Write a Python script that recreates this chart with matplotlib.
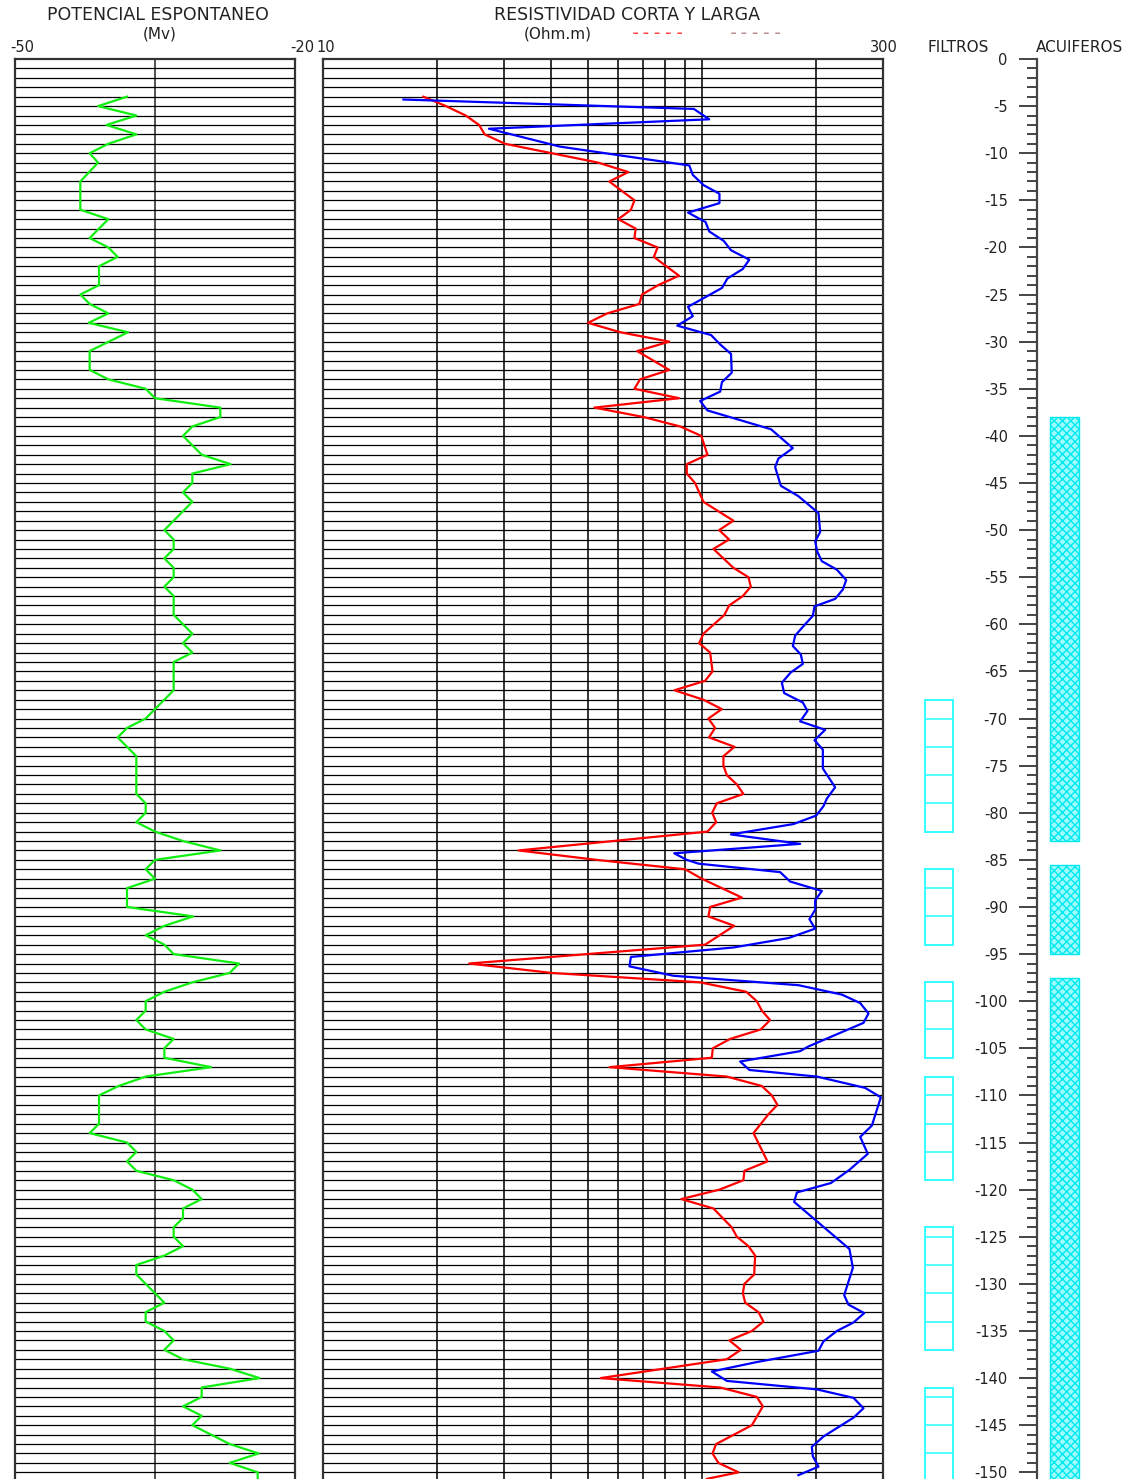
import numpy as np
import matplotlib
matplotlib.use("Agg")
import matplotlib.pyplot as plt
from matplotlib.patches import Rectangle
from matplotlib.ticker import FixedLocator, NullFormatter, NullLocator

sp_depth = [-4, -5, -6, -7, -8, -9, -10, -11, -13, -16, -17, -19, -20, -21, -22, -24, -25, -26,
            -27, -28, -29, -31, -33, -34, -35, -36, -37, -38, -39, -40, -42, -43, -44, -45, -46,
            -47, -50, -51, -52, -53, -54, -55, -56, -57, -59, -61, -62, -63, -64, -67, -70, -71,
            -72, -74, -78, -79, -80, -81, -82, -83, -84, -85, -86, -87, -88, -90, -91, -92, -93,
            -94, -95, -96, -97, -98, -99, -100, -101, -102, -103, -104, -105, -106, -107, -108,
            -109, -110, -113, -114, -115, -116, -117, -118, -119, -120, -121, -122, -123, -124,
            -125, -126, -127, -128, -129, -131, -132, -133, -134, -135, -136, -137, -138, -139,
            -140, -141, -142, -143, -144, -145, -147, -148, -149, -150, -150.7]
sp_mv = [-38.0, -41.1, -37.0, -40.2, -37.0, -40.0, -42.0, -41.1, -43.0, -43.0, -40.0, -42.0,
         -40.0, -39.0, -41.0, -41.0, -43.0, -42.0, -40.0, -42.1, -37.9, -42.0, -42.0, -40.0,
         -36.0, -35.0, -28.0, -28.0, -31.0, -32.0, -30.0, -26.9, -31.0, -31.0, -32.0, -31.0,
         -34.0, -33.0, -33.0, -34.0, -33.0, -33.0, -34.0, -33.0, -33.0, -31.0, -32.0, -31.0,
         -33.0, -33.0, -36.0, -38.0, -39.0, -37.0, -37.0, -36.0, -36.0, -37.0, -35.0, -32.0,
         -28.0, -35.0, -36.0, -35.0, -38.0, -38.0, -30.9, -34.0, -36.0, -34.0, -33.0, -26.0,
         -27.0, -31.0, -34.0, -36.0, -36.0, -37.0, -36.0, -33.0, -34.0, -34.0, -29.0, -36.0,
         -38.9, -41.0, -41.0, -42.0, -38.0, -37.0, -38.0, -37.0, -33.0, -31.0, -30.0, -32.0,
         -32.0, -33.0, -33.0, -32.0, -34.0, -37.0, -37.0, -35.0, -34.0, -36.0, -36.0, -34.0,
         -33.0, -34.0, -32.0, -27.0, -23.8, -30.0, -30.0, -32.0, -30.0, -31.0, -27.0, -23.9,
         -27.0, -24.0, -24.0]

corta_depth = [-4, -5, -6, -7, -8, -9, -10, -11, -12, -13, -15, -16, -17, -18, -19, -20, -21,
               -23, -24, -25, -26, -27, -28, -29, -30, -31, -33, -34, -35, -36, -37, -38, -39,
               -40, -42, -43, -44, -45, -47, -49, -50, -51, -52, -54, -55, -56, -57, -58, -59,
               -61, -62, -63, -65, -66, -67, -68, -69, -70, -71, -72, -73, -74, -75, -76, -77,
               -78, -79, -80, -81, -82, -84, -85, -86, -87, -89, -90, -91, -92, -94, -96, -97,
               -98, -99, -100, -101, -102, -103, -104, -105, -106, -107, -108, -109, -110, -111,
               -112, -114, -117, -118, -119, -120, -121, -122, -124, -125, -126, -127, -129,
               -130, -131, -132, -133, -134, -135, -136, -137, -138, -140, -141, -142, -143,
               -145, -147, -148, -149, -150, -150.7]
corta_ohm = [18.4, 21.1, 23.8, 25.8, 26.7, 30.2, 40.1, 53.2, 63.9, 56.9, 66.3, 64.9, 60.1, 66.8,
             66.3, 76.3, 74.6, 86.9, 76.6, 69.4, 68.3, 56.2, 50.0, 60.8, 81.9, 67.4, 81.9, 68.6,
             66.3, 86.9, 52.0, 70.1, 87.5, 99.5, 103.3, 91.1, 91.1, 95.8, 100.8, 120.9, 110.9,
             117.8, 107.1, 120.9, 132.5, 134.4, 128.1, 117.8, 114.5, 100.8, 98.2, 105.0, 106.5,
             101.8, 84.5, 100.8, 112.7, 103.9, 108.2, 104.3, 121.7, 113.8, 113.8, 116.2, 123.5,
             128.5, 109.3, 106.3, 108.9, 103.3, 32.8, 52.7, 90.2, 99.8, 127.3, 105.0, 103.9,
             121.5, 101.8, 24.3, 40.1, 98.8, 130.7, 139.4, 143.7, 151.1, 142.8, 118.6, 106.7,
             106.1, 57.0, 116.2, 143.7, 152.7, 158.0, 149.6, 136.6, 148.7, 129.3, 128.5, 111.1,
             88.1, 107.1, 119.7, 123.5, 132.5, 138.0, 137.2, 129.3, 128.1, 129.9, 140.8, 145.1,
             135.3, 118.0, 126.5, 116.2, 54.0, 111.6, 139.4, 144.6, 135.3, 108.9, 106.5, 110.4,
             124.7, 102.9]

larga_depth = [-4.3, -5.3, -6.4, -7.4, -9.3, -11.3, -12.3, -13.4, -14.3, -15.3, -16.3, -17.3,
               -18.3, -19.3, -20.3, -21.3, -22.3, -23.3, -24.3, -26.3, -27.3, -28.3, -29.3,
               -30.3, -31.3, -33.3, -34.3, -35.3, -36.3, -37.3, -39.3, -41.3, -42.4, -43.3,
               -45.3, -46.4, -48.2, -50.2, -51.2, -52.3, -53.3, -54.2, -55.3, -56.3, -57.3,
               -58.1, -59.1, -60.2, -61.2, -62.3, -63.2, -64.2, -65.1, -66.2, -67.3, -68.3,
               -69.2, -70.3, -71.2, -72.3, -73.3, -75.3, -77.3, -78.5, -79.3, -80.3, -81.2,
               -82.3, -83.3, -84.3, -85.0, -85.4, -86.3, -87.3, -88.3, -89.3, -90.3, -91.3,
               -92.3, -93.3, -94.3, -95.3, -96.3, -97.3, -98.3, -99.3, -100.2, -101.3, -102.3,
               -104.8, -105.3, -106.4, -107.3, -108.0, -109.2, -110.2, -113.2, -114.4, -116.2,
               -117.9, -119.3, -120.3, -121.3, -122.9, -126.3, -128.3, -131.2, -132.2, -133.1,
               -134.1, -135.0, -136.1, -137.1, -138.3, -139.3, -140.3, -141.2, -142.1, -143.2,
               -144.2, -146.2, -147.3, -148.3, -149.4, -150.3]
larga_ohm = [16.3, 95.1, 104.4, 27.4, 42.2, 92.5, 94.5, 101.0, 111.1, 111.1, 91.8, 102.1, 104.4,
             114.0, 119.2, 133.2, 127.9, 116.6, 112.8, 91.8, 94.5, 86.0, 105.6, 111.6, 119.2,
             119.7, 112.8, 111.6, 98.8, 103.3, 152.0, 173.5, 159.0, 155.8, 161.3, 179.5, 202.8,
             204.8, 198.7, 201.3, 206.9, 226.7, 239.9, 235.1, 224.3, 197.9, 195.9, 185.0, 176.0,
             173.5, 182.1, 184.4, 171.4, 162.3, 164.6, 184.4, 189.6, 181.4, 211.1, 197.9, 208.2,
             208.2, 224.3, 213.3, 209.0, 199.9, 174.1, 119.1, 181.4, 84.4, 91.1, 97.8, 160.6,
             170.7, 206.9, 198.7, 198.7, 191.9, 198.7, 168.9, 120.9, 64.9, 64.3, 84.0, 179.5,
             233.7, 261.2, 274.7, 266.5, 190.8, 181.4, 126.0, 133.3, 200.8, 269.2, 296.1, 280.4,
             261.2, 273.5, 244.7, 218.6, 177.8, 174.9, 194.7, 244.7, 249.8, 237.0, 243.2, 267.6,
             250.8, 226.7, 209.0, 202.8, 139.4, 106.1, 116.2, 200.8, 250.8, 266.5, 250.8, 209.0,
             194.7, 195.9, 202.8, 179.5]

# filter screens: each list = top, internal joints, bottom
filtros = [[-68, -70, -73, -76, -79, -82],
           [-86, -88, -91, -94],
           [-98, -100, -103, -106],
           [-108, -110, -113, -116, -119],
           [-124, -125, -128, -131, -134, -137],
           [-141, -142, -145, -148, -151]]
acuiferos = [(-38, -83), (-85.5, -95), (-97.5, -152)]

res_grid = [20, 30, 40, 50, 60, 70, 80, 90, 100, 200]

# ---- layout (pixels) ----
W, H = 1135, 1479
TOP = 59
PX_PER_M = 9.422
dmin = -(H - TOP) / PX_PER_M

fig = plt.figure(figsize=(W / 100, H / 100), dpi=100)


def box(x0, x1):
    return [x0 / W, 0, (x1 - x0) / W, (H - TOP) / H]


def label(x, y, s, **kw):
    kw.setdefault("fontsize", 10.5)
    kw.setdefault("color", "#222222")
    fig.text(x / W, 1 - y / H, s, ha="center", va="center", **kw)


FRAME = "#333333"

# spontaneous potential track
ax_sp = fig.add_axes(box(15, 295))
ax_sp.set_xlim(-50, -20)
ax_sp.set_ylim(dmin, 0)
ax_sp.set_xticks([-35])
ax_sp.set_yticks(np.arange(-150, 0, 1))
ax_sp.tick_params(length=0, labelbottom=False, labelleft=False)
ax_sp.grid(axis="y", color="black", lw=0.9)
ax_sp.grid(axis="x", color="#444444", lw=1.3)
ax_sp.plot(sp_mv, sp_depth, color="#11ee11", lw=1.6, zorder=3)

# resistivity track
ax_r = fig.add_axes(box(323, 883))
ax_r.set_xscale("log")
ax_r.set_xlim(10, 300)
ax_r.set_ylim(dmin, 0)
ax_r.xaxis.set_major_locator(FixedLocator(res_grid))
ax_r.xaxis.set_minor_locator(NullLocator())
ax_r.xaxis.set_major_formatter(NullFormatter())
ax_r.set_yticks(np.arange(-150, 0, 1))
ax_r.tick_params(length=0, labelbottom=False, labelleft=False)
ax_r.grid(axis="y", color="black", lw=0.9)
ax_r.grid(axis="x", color="#222222", lw=1.3)
ax_r.plot(corta_ohm, corta_depth, color="#ff0000", lw=1.6, zorder=3)
ax_r.plot(larga_ohm, larga_depth, color="#0000ff", lw=1.6, zorder=3)

for ax in (ax_sp, ax_r):
    for side in ("left", "right", "top"):
        ax.spines[side].set_color(FRAME)
        ax.spines[side].set_linewidth(1.6)
    ax.spines["bottom"].set_visible(False)

# filters track
ax_f = fig.add_axes(box(900, 1037))
ax_f.set_xlim(900, 1037)
ax_f.set_ylim(dmin, 0)
ax_f.axis("off")
for f in filtros:
    ax_f.add_patch(Rectangle((925, f[-1]), 28, f[0] - f[-1], fill=False,
                             edgecolor="#33ffff", lw=1.4))
    ax_f.hlines(f[1:-1], 925, 953, color="#33ffff", lw=1.2)

# depth scale + aquifers
ax_d = fig.add_axes(box(1037, 1135))
ax_d.set_xlim(0, 98)
ax_d.set_ylim(dmin, 0)
for side in ("right", "top", "bottom"):
    ax_d.spines[side].set_visible(False)
ax_d.spines["left"].set_color("#444444")
ax_d.spines["left"].set_linewidth(1.6)
majors = np.arange(0, -151, -5)
ax_d.set_yticks(majors)
ax_d.set_yticklabels([str(int(v)) for v in majors])
ax_d.set_yticks(np.arange(0, -151, -1), minor=True)
ax_d.set_xticks([])
ax_d.tick_params(axis="y", which="major", direction="out", length=13, width=1.4,
                 color="#444444", labelsize=10.5, labelcolor="#222222", pad=8)
ax_d.tick_params(axis="y", which="minor", direction="out", length=7, width=1.4,
                 color="#444444")
for top, bot in acuiferos:
    ax_d.add_patch(Rectangle((13, bot), 29, top - bot, facecolor="#9ffcfc",
                             edgecolor="#00e8f0", hatch="xxxx", lw=1.0))

# headers
label(158, 15, "POTENCIAL ESPONTANEO", fontsize=12.5)
label(160, 34, "(Mv)", fontsize=11)
label(22, 48, "-50", fontsize=10.5)
label(302, 48, "-20", fontsize=10.5)
label(326, 48, "10", fontsize=10.5)
label(884, 48, "300", fontsize=10.5)
label(627, 15, "RESISTIVIDAD CORTA Y LARGA", fontsize=12.5)
label(558, 34, "(Ohm.m)", fontsize=11)
label(658, 33, "-----", color="#ff4444", family="DejaVu Sans Mono", fontsize=13.5)
label(756, 33, "-----", color="#b89090", family="DejaVu Sans Mono", fontsize=13.5)
label(958, 48, "FILTROS", fontsize=11)
label(1080, 48, "ACUIFEROS", fontsize=11)

fig.savefig("out.png", dpi=100)
